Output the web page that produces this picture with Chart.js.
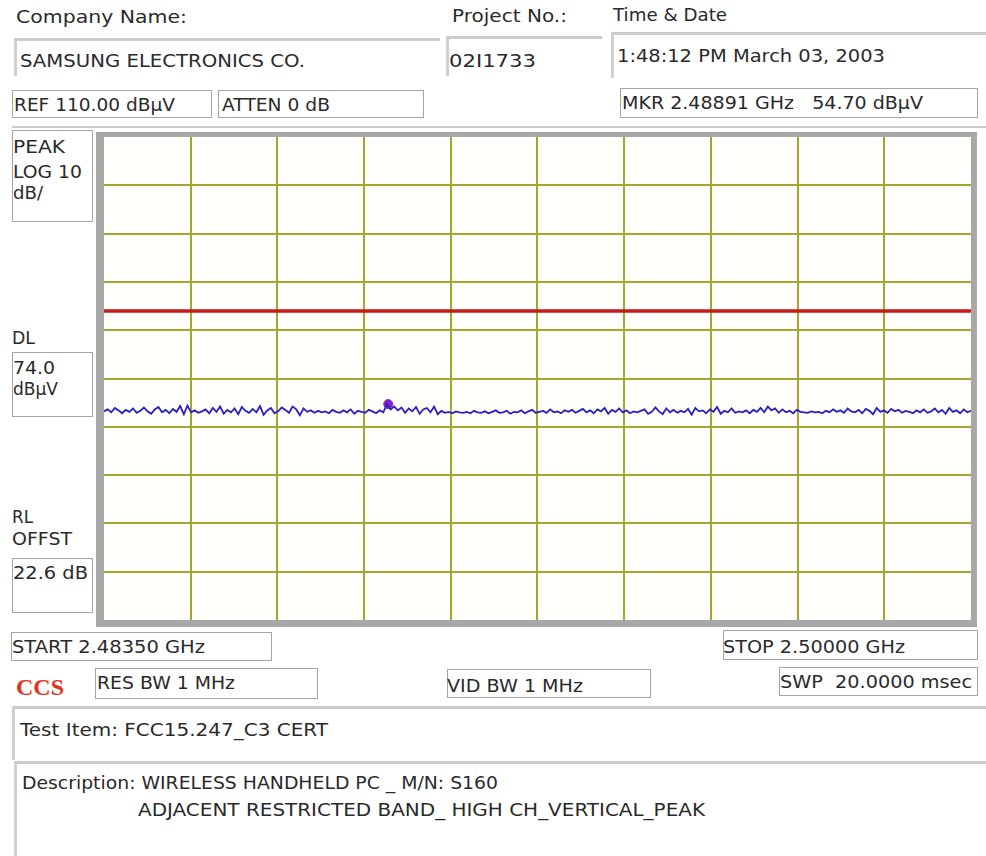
<!DOCTYPE html>
<html>
<head>
<meta charset="utf-8">
<script src="https://cdn.jsdelivr.net/npm/chart.js@4"></script>
<style>
    body { margin: 0; background: #fff; }
    #page { position: relative; width: 986px; height: 856px; overflow: hidden; background: #fff;
        font-family: "DejaVu Sans", sans-serif; color: #2a2a2a; }
    .t { position: absolute; font-size: 18px; line-height: 20px; white-space: pre;
        transform-origin: left center; }
    .box { position: absolute; border: 1px solid #a4a4a4; box-sizing: border-box; }
    .sunk { position: absolute; box-sizing: border-box; border-top: 3px solid #cbcbcb; border-left: 3px solid #d0d0d0; }
    #frame { position: absolute; left: 96px; top: 132px; width: 881px; height: 495px; box-sizing: border-box;
        border-style: solid; border-color: #a8a8a8; border-width: 5px 6px 7px 8px; background: #fffffb; }
    #plot { position: absolute; left: 0; top: 0; width: 867px; height: 483px; }
    .ccs { font-family: "Liberation Serif", serif; font-weight: bold; color: #e2341e; font-size: 24px; line-height: 24px; }
</style>
</head>
<body>
<div id="page">
    <div class="sunk" style="left:14px;top:38px;width:426px;height:38px"></div>
    <div class="sunk" style="left:446px;top:36px;width:156px;height:40px"></div>
    <div class="sunk" style="left:611px;top:32px;width:375px;height:46px"></div>
    <div style="position:absolute;left:12px;top:126px;width:974px;height:2px;background:#cccccc"></div>

    <div class="box" style="left:12px;top:90px;width:200px;height:28px"></div>
    <div class="box" style="left:218px;top:90px;width:206px;height:28px"></div>
    <div class="box" style="left:620px;top:88px;width:358px;height:30px"></div>
    <div class="box" style="left:12px;top:130px;width:81px;height:92px"></div>
    <div class="box" style="left:12px;top:352px;width:81px;height:65px"></div>
    <div class="box" style="left:12px;top:558px;width:81px;height:55px"></div>
    <div class="box" style="left:11px;top:632px;width:261px;height:29px"></div>
    <div class="box" style="left:723px;top:630px;width:255px;height:30px"></div>
    <div class="box" style="left:95px;top:668px;width:223px;height:31px"></div>
    <div class="box" style="left:447px;top:669px;width:204px;height:29px"></div>
    <div class="box" style="left:779px;top:667px;width:199px;height:29px"></div>

    <div class="sunk" style="left:12px;top:706px;width:974px;height:54px"></div>
    <div class="sunk" style="left:14px;top:761px;width:972px;height:95px"></div>

    <div id="frame"><div id="plot"><canvas id="spectrum"></canvas></div></div>

    <div class="t" data-w="171" style="left:16px;top:7px">Company Name:</div>
    <div class="t" data-w="115" style="left:452px;top:6px">Project No.:</div>
    <div class="t" data-w="114" style="left:613px;top:5px">Time &amp; Date</div>
    <div class="t" data-w="285" style="left:20px;top:51px">SAMSUNG ELECTRONICS CO.</div>
    <div class="t" data-w="87" style="left:449px;top:51px">02I1733</div>
    <div class="t" data-w="268" style="left:617px;top:46px">1:48:12 PM March 03, 2003</div>
    <div class="t" data-w="161" style="left:14px;top:95px">REF 110.00 dBµV</div>
    <div class="t" data-w="108" style="left:222px;top:95px">ATTEN 0 dB</div>
    <div class="t" data-w="301" style="left:622px;top:93px">MKR 2.48891 GHz   54.70 dBµV</div>
    <div class="t" data-w="52" style="left:13px;top:137px">PEAK</div>
    <div class="t" data-w="69" style="left:13px;top:162px">LOG 10</div>
    <div class="t" data-w="30" style="left:13px;top:183px">dB/</div>
    <div class="t" data-w="23" style="left:12px;top:328px">DL</div>
    <div class="t" data-w="42" style="left:13px;top:358px">74.0</div>
    <div class="t" data-w="45" style="left:13px;top:379px">dBµV</div>
    <div class="t" data-w="21" style="left:12px;top:507px">RL</div>
    <div class="t" data-w="60" style="left:12px;top:529px">OFFST</div>
    <div class="t" data-w="75" style="left:13px;top:563px">22.6 dB</div>
    <div class="t" data-w="193" style="left:12px;top:637px">START 2.48350 GHz</div>
    <div class="t" data-w="182" style="left:723px;top:637px">STOP 2.50000 GHz</div>
    <div class="t ccs" data-w="48" style="left:16px;top:675px">CCS</div>
    <div class="t" data-w="138" style="left:97px;top:673px">RES BW 1 MHz</div>
    <div class="t" data-w="136" style="left:447px;top:676px">VID BW 1 MHz</div>
    <div class="t" data-w="192" style="left:780px;top:672px">SWP  20.0000 msec</div>
    <div class="t" data-w="308" style="left:20px;top:720px">Test Item: FCC15.247_C3 CERT</div>
    <div class="t" data-w="476" style="left:22px;top:773px">Description: WIRELESS HANDHELD PC _ M/N: S160</div>
    <div class="t" data-w="567" style="left:138px;top:800px">ADJACENT RESTRICTED BAND_ HIGH CH_VERTICAL_PEAK</div>
</div>
<script>
// sweep settings (GHz / dBuV)
const START_GHZ = 2.4835;
const STOP_GHZ = 2.5;
const REF_LEVEL = 110;
const DB_PER_DIV = 10;
const DISPLAY_LINE = 74.0;
const MARKER_FREQ = 2.48891;
const MARKER_LEVEL = 54.70;

// peak trace (dBuV)
const trace = [
    53.2, 53.6, 53.0, 53.9, 53.4, 52.8, 53.5, 53.1, 53.8, 52.9, 53.3, 54.0, 53.2, 52.7, 53.6, 54.1, 53.0, 53.5, 52.8, 53.7,
    53.1, 54.3, 52.6, 54.4, 53.0, 53.4, 52.9, 53.2, 53.6, 52.8, 53.9, 53.1, 54.2, 52.7, 53.5, 53.0, 53.8, 52.6, 54.1, 53.3,
    52.9, 53.7, 53.0, 54.3, 52.5, 53.4, 53.9, 52.8, 53.2, 54.0, 53.5, 52.9, 54.2, 53.6, 52.4, 53.8, 53.1, 53.4, 52.9, 53.3,
    53.0, 53.2, 52.8, 53.5, 53.1, 52.9, 53.4, 53.0, 53.6, 52.7, 53.3, 53.1, 52.9, 53.5, 53.2, 52.8, 53.4, 53.0, 54.7, 53.6,
    54.2, 53.4, 54.0, 52.9, 53.8, 53.2, 54.1, 52.7, 53.6, 53.9, 53.0, 54.2, 52.6, 53.3, 52.9, 53.1, 52.8, 53.2, 53.0, 52.9,
    53.1, 52.8, 53.3, 53.0, 52.9, 53.2, 52.8, 53.1, 53.4, 52.9, 53.0, 53.3, 52.7, 53.1, 53.0, 53.4, 52.8, 53.2, 53.5, 52.9,
    53.1, 53.3, 52.9, 53.6, 53.0, 53.2, 52.8, 53.4, 53.1, 53.5, 52.9, 53.3, 53.7, 53.0, 53.4, 52.8, 53.6, 53.2, 53.9, 52.7,
    53.5, 53.1, 53.8, 53.0, 53.4, 52.8, 53.2, 53.0, 53.3, 53.6, 52.7, 53.1, 54.0, 53.2, 52.6, 53.8, 53.0, 53.5, 52.9, 53.3,
    53.0, 53.7, 52.5, 53.9, 53.2, 53.4, 52.8, 53.6, 53.1, 54.1, 52.7, 53.3, 53.0, 53.8, 52.9, 53.2, 53.0, 53.4, 52.8, 53.5,
    53.1, 53.9, 53.0, 54.2, 53.4, 53.8, 52.9, 53.6, 53.0, 53.3, 52.8, 53.5, 53.1, 53.0, 52.9, 53.2, 53.0, 53.1, 52.8, 53.3,
    53.0, 53.6, 53.1, 53.4, 52.9, 53.8, 53.2, 53.0, 53.5, 52.8, 53.7, 53.3, 52.6, 53.9, 53.1, 53.4, 52.9, 53.7, 53.2, 53.5,
    52.9, 53.3, 53.1, 52.8, 53.4, 53.0, 53.6, 52.9, 53.2, 53.8, 53.0, 53.5, 52.7, 53.9, 53.1, 53.4, 52.8, 53.6, 53.0, 53.3
];

// stretch each label to the width it has on the original screen
document.querySelectorAll(".t[data-w]").forEach(el => {
    const w = el.getBoundingClientRect().width;
    el.style.transform = `scaleX(${el.dataset.w / w})`;
});

const SPAN = STOP_GHZ - START_GHZ;
const gridColor = "#a6a62c";
// hide the grid lines that sit on the frame edge
const innerGrid = (ctx) => (ctx.index === 0 || ctx.index === 10) ? "rgba(0,0,0,0)" : gridColor;

// evenly spaced sweep points between start and stop
const tracePoints = trace.map((v, i) => ({ x: START_GHZ + i * SPAN / (trace.length - 1), y: v }));

new Chart(document.getElementById("spectrum"), {
    type: "line",
    data: {
        datasets: [
            {
                label: "DL",
                data: [{ x: START_GHZ, y: DISPLAY_LINE }, { x: STOP_GHZ, y: DISPLAY_LINE }],
                borderColor: "#c81a1a",
                borderWidth: 3.5,
                pointRadius: 0
            },
            {
                label: "Trace",
                data: tracePoints,
                borderColor: "#2a1ec4",
                borderWidth: 1.8,
                pointRadius: 0,
                tension: 0
            },
            {
                label: "Marker",
                data: [{ x: MARKER_FREQ, y: MARKER_LEVEL }],
                showLine: false,
                pointRadius: 4.5,
                backgroundColor: "#8424c8",
                borderColor: "#8424c8"
            }
        ]
    },
    options: {
        responsive: true,
        maintainAspectRatio: false,
        animation: false,
        layout: { padding: 0, autoPadding: false },
        plugins: { legend: { display: false }, tooltip: { enabled: false } },
        scales: {
            x: {
                type: "linear",
                min: START_GHZ,
                max: STOP_GHZ,
                afterBuildTicks: (scale) => {
                    const ticks = [];
                    for (let i = 0; i <= 10; i++) ticks.push({ value: START_GHZ + i * SPAN / 10 });
                    scale.ticks = ticks;
                },
                ticks: { display: false },
                grid: { color: innerGrid, lineWidth: 2, drawTicks: false },
                border: { display: false }
            },
            y: {
                min: REF_LEVEL - 10 * DB_PER_DIV,
                max: REF_LEVEL,
                ticks: { display: false, stepSize: DB_PER_DIV },
                grid: { color: innerGrid, lineWidth: 2, drawTicks: false },
                border: { display: false }
            }
        }
    }
});
</script>
</body>
</html>
